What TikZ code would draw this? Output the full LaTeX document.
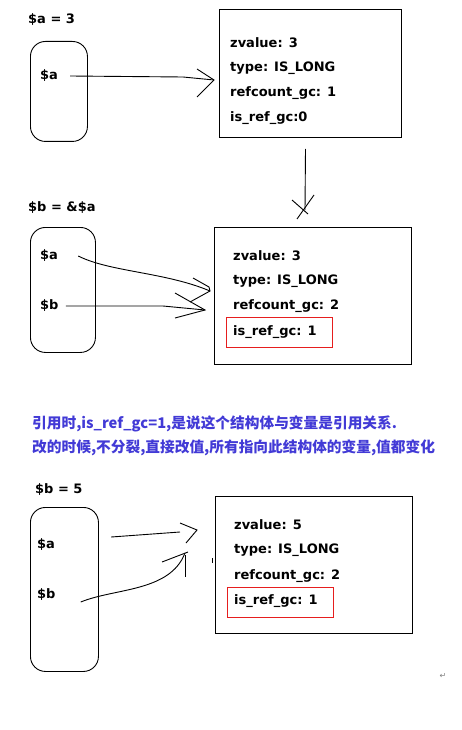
\documentclass[tikz,border=0pt]{standalone}
\usepackage{fontspec}
\setmainfont{DejaVu Sans}
\newfontfamily\cjk{Noto Sans CJK SC}
\usepackage{xcolor}
\usepackage{tikz}
\usetikzlibrary{positioning}
\definecolor{notebiru}{RGB}{66,58,214}
\definecolor{merahkotak}{RGB}{230,30,30}

\begin{document}
\begin{tikzpicture}[
    x=1pt, y=-1pt,
    font=\fontsize{13}{15}\selectfont\bfseries,
    teks/.style={inner sep=0pt, anchor=west},
    wadah/.style={draw, line width=0.9pt, rounded corners=15pt, anchor=north west},
    zkotak/.style={draw, line width=1pt, anchor=north west},
    tanda/.style={draw=merahkotak, line width=1.1pt, anchor=north west,
                  minimum width=106pt, minimum height=30pt},
    garis/.style={line width=0.9pt},
    catatan/.style={inner sep=0pt, anchor=west, text=notebiru,
                    font=\cjk\fontsize{14.7}{17}\selectfont\bfseries}
  ]
    \useasboundingbox (0,0) rectangle (461,730);

    % tahap 1: $a = 3
    \node[teks] (judul1) at (28,20) {\$a = 3};
    \node[wadah, minimum width=57pt, minimum height=100pt] (var1) at (30,41) {};
    \node[teks] (va1) at (40,76) {\$a};
    \node[zkotak, minimum width=182pt, minimum height=128pt] (zv1) at (219,9) {};
    \node[teks] (z1a) at (230,43) {zvalue: 3};
    \node[teks] (z1b) at (230,68) {type: IS\_LONG};
    \node[teks] (z1c) at (230,93) {refcount\_gc: 1};
    \node[teks] (z1d) at (230,118) {is\_ref\_gc:0};

    \coordinate (ujung1) at (214,80);
    \draw[garis] ([xshift=12pt]va1.east) -- (183,77) -- (ujung1);
    \draw[garis] (ujung1) ++(-17,-11) -- (ujung1) -- ++(-17,17);

    % panah turun
    \coordinate (ujung2) at (305,210);
    \draw[garis] ([xshift=-5pt,yshift=-11pt]zv1.south) -- (ujung2);
    \draw[garis] (292,200) -- (308,214);
    \draw[garis] (314,195) -- (297,219);

    % tahap 2: $b = &$a
    \node[teks] (judul2) at (28,208) {\$b = \&\$a};
    \node[wadah, minimum width=65pt, minimum height=125pt] (var2) at (30,227) {};
    \node[teks] (va2) at (40,256) {\$a};
    \node[teks] (vb2) at (40,306) {\$b};
    \node[zkotak, minimum width=197pt, minimum height=137pt] (zv2) at (214,227) {};
    \node[teks] (z2a) at (233,256) {zvalue: 3};
    \node[teks] (z2b) at (233,281) {type: IS\_LONG};
    \node[teks] (z2c) at (233,306) {refcount\_gc: 2};
    \node[teks] (z2d) at (233,332) {is\_ref\_gc: 1};
    \node[tanda] (merah2) at (226,317) {};

    \coordinate (ujung3) at (210,291);
    \draw[garis] ([xshift=20pt]va2.east) .. controls (110,272) and (165,272) .. (ujung3);
    \draw[garis] (193,278) -- (209,287) -- (ujung3) -- (190,302);
    \coordinate (ujung4) at (205,310);
    \draw[garis] ([xshift=7pt]vb2.east) -- (163,306) -- (ujung4);
    \draw[garis] (175,293) -- (ujung4) -- (175,318);

    % keterangan
    \node[catatan] (cat1) at (32,424) {引用时,is\_ref\_gc=1,是说这个结构体与变量是引用关系.};
    \node[catatan] (cat2) at (32,448) {改的时候,不分裂,直接改值,所有指向此结构体的变量,值都变化};

    % tahap 3: $b = 5
    \node[teks] (judul3) at (35,490) {\$b = 5};
    \node[wadah, minimum width=68pt, minimum height=164pt] (var3) at (30,507) {};
    \node[teks] (va3) at (37,545) {\$a};
    \node[teks] (vb3) at (37,595) {\$b};
    \node[zkotak, minimum width=197pt, minimum height=137pt] (zv3) at (215,496) {};
    \node[teks] (z3a) at (234,525) {zvalue: 5};
    \node[teks] (z3b) at (234,550) {type: IS\_LONG};
    \node[teks] (z3c) at (234,576) {refcount\_gc: 2};
    \node[teks] (z3d) at (234,601) {is\_ref\_gc: 1};
    \node[tanda] (merah3) at (226.5,586.5) {};

    \coordinate (ujung5) at (197,530);
    \draw[garis] ([xshift=56pt,yshift=8pt]va3.east) -- (180,532);
    \draw[garis] (180,523) -- (ujung5) -- (186,543);
    \coordinate (ujung6) at (185,553);
    \draw[garis] ([xshift=25pt,yshift=-7pt]vb3.east) .. controls (115,588) and (170,592) .. (ujung6);
    \draw[garis] (162,562) -- (188,552);
    \draw[garis] (185,555) -- (185,577);
    \draw[line width=0.8pt] (212,558) -- (212,563);

    \node[inner sep=0pt, text=gray, font=\fontsize{8}{9}\selectfont] (balik) at (443,676) {↵};
  \end{tikzpicture}
\end{document}
